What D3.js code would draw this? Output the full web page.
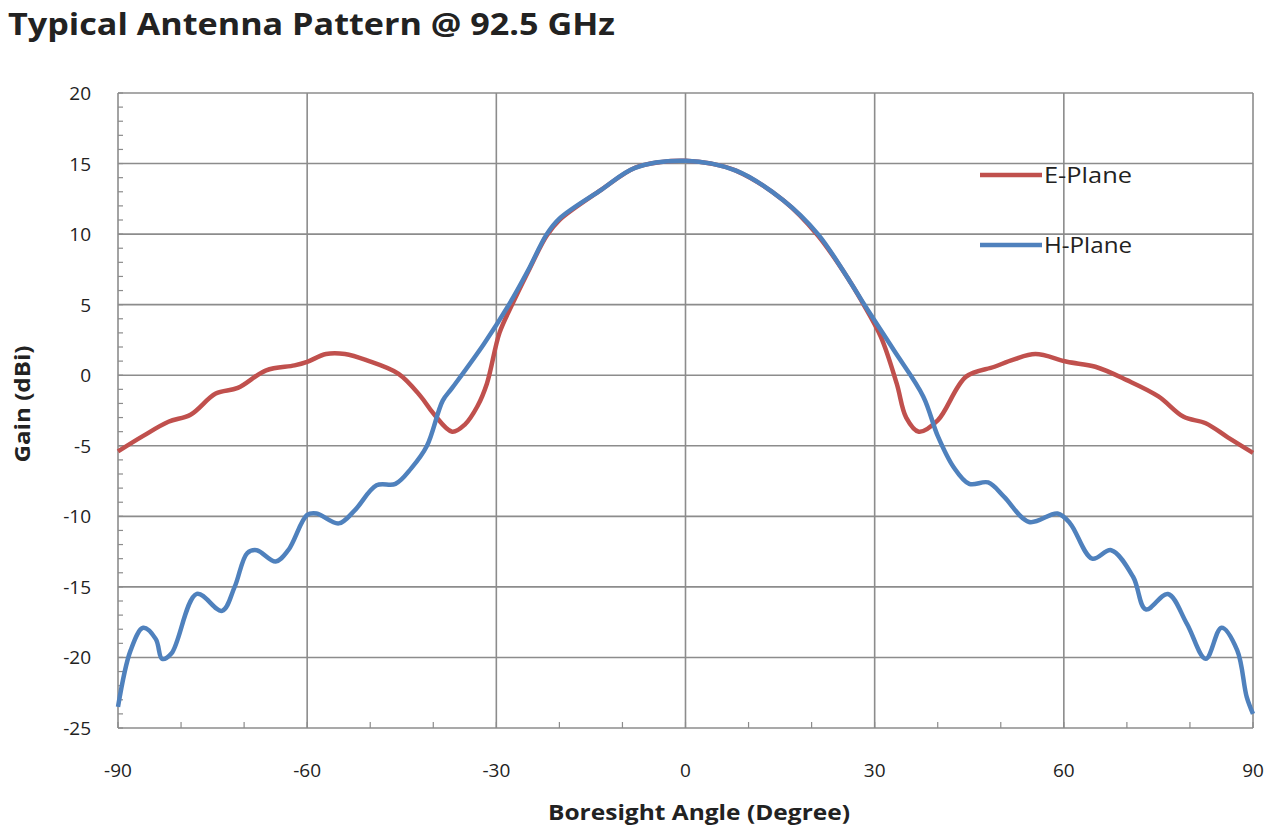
<!DOCTYPE html>
<meta charset="utf-8">
<head>
  <title>Typical Antenna Pattern</title>
</head>
<style>
  body { margin: 0; background: #fff; }
  text { font-family: "Open Sans", "Noto Sans", sans-serif; fill: #222; }
</style>
<body>
  <svg width="1280" height="838"></svg>

  <script src="https://cdnjs.cloudflare.com/ajax/libs/d3/7.8.5/d3.min.js"></script>
  <script>
  // angle (deg) and gain (dBi)
  var eAngle = [-90, -86, -82, -78.5, -74.5, -71, -66.5, -62, -60, -57, -54, -50.5, -45.5, -42, -40, -37, -35, -33, -31.5, -29.5, -27.5, -25, -22, -20, -13.5, -8, -4, 0, 4, 8, 15.5, 21, 26, 28, 31, 33.5, 35, 37, 40, 44.5, 49, 52, 55.5, 60.5, 65, 70, 75, 79, 82.5, 86, 90];
  var eGain  = [-5.4, -4.3, -3.3, -2.8, -1.3, -0.9, 0.35, 0.7, 0.95, 1.5, 1.5, 1.05, 0.1, -1.5, -2.7, -4.0, -3.5, -2.2, -0.6, 3.0, 5.0, 7.3, 9.9, 11.0, 13.1, 14.7, 15.1, 15.2, 15.0, 14.5, 12.4, 9.9, 6.7, 5.2, 2.7, -0.6, -3.0, -4.0, -3.2, -0.1, 0.6, 1.1, 1.5, 0.95, 0.6, -0.35, -1.5, -2.95, -3.4, -4.4, -5.5];

  var hAngle = [-90, -88, -86, -84, -83, -81.5, -77.5, -73.5, -71.5, -69.5, -68, -65, -63, -60, -58.5, -55, -52.5, -49, -46, -43.5, -41, -38.5, -37, -32, -28, -25, -22, -20, -13.5, -8, 0, 8, 15.5, 21, 26, 28.5, 33, 37.7, 40, 42.5, 45, 48, 50.5, 54.5, 59, 61, 64.5, 67.5, 71, 73, 76.5, 79.5, 82.5, 85, 87.5, 89, 90];
  var hGain  = [-23.5, -19.5, -17.9, -18.7, -20.1, -19.7, -15.5, -16.7, -15.0, -12.6, -12.4, -13.2, -12.4, -9.9, -9.8, -10.5, -9.6, -7.8, -7.7, -6.6, -5.0, -1.8, -0.9, 2.2, 5.0, 7.4, 10.0, 11.1, 13.1, 14.7, 15.2, 14.5, 12.4, 10.0, 6.7, 4.9, 1.8, -1.5, -4.3, -6.5, -7.7, -7.6, -8.6, -10.4, -9.8, -10.5, -13.0, -12.4, -14.3, -16.6, -15.5, -17.6, -20.1, -17.9, -19.5, -22.8, -24];

  var seriesNames = ['E-Plane', 'H-Plane'];
  var colors = ['#c0504d', '#4f81bd'];
  var xTicks = [-90, -60, -30, 0, 30, 60, 90];
  var yTicks = [-25, -20, -15, -10, -5, 0, 5, 10, 15, 20];

  var svg = d3.select('svg');
  var pLeft = 118, pRight = 1253, pTop = 93, pBottom = 728;

  var x = d3.scaleLinear().domain([-90, 90]).range([pLeft, pRight]);
  var y = d3.scaleLinear().domain([-25, 20]).range([pBottom, pTop]);

  svg.append('text')
    .attr('x', 8).attr('y', 35)
    .attr('textLength', 607).attr('lengthAdjust', 'spacingAndGlyphs')
    .style('font-size', '31px').style('font-weight', 'bold')
    .text('Typical Antenna Pattern @ 92.5 GHz');

  var g = svg.append('g');

  // grid
  g.selectAll('.hgrid').data(yTicks).enter().append('line')
    .attr('x1', pLeft).attr('x2', pRight)
    .attr('y1', function(d) { return y(d); })
    .attr('y2', function(d) { return y(d); })
    .style('stroke', '#8c8c8c').style('stroke-width', 1.6);
  g.selectAll('.vgrid').data(xTicks).enter().append('line')
    .attr('y1', pTop).attr('y2', pBottom)
    .attr('x1', function(d) { return x(d); })
    .attr('x2', function(d) { return x(d); })
    .style('stroke', '#8c8c8c').style('stroke-width', 1.6);

  // minor ticks
  g.selectAll('.ym').data(d3.range(-25, 21, 1)).enter().append('line')
    .attr('x1', pLeft).attr('x2', pLeft + 5)
    .attr('y1', function(d) { return y(d); })
    .attr('y2', function(d) { return y(d); })
    .style('stroke', '#8c8c8c').style('stroke-width', 1.2);
  g.selectAll('.xm').data(d3.range(-90, 91, 10)).enter().append('line')
    .attr('y1', pBottom).attr('y2', pBottom - 6)
    .attr('x1', function(d) { return x(d); })
    .attr('x2', function(d) { return x(d); })
    .style('stroke', '#8c8c8c').style('stroke-width', 1.2);

  // axis labels
  g.selectAll('.yl').data(yTicks).enter().append('text')
    .attr('x', 91).attr('y', function(d) { return y(d) + 7; })
    .attr('text-anchor', 'end')
    .style('font-size', '19px')
    .text(function(d) { return d; });
  g.selectAll('.xl').data(xTicks).enter().append('text')
    .attr('x', function(d) { return x(d); }).attr('y', 777)
    .attr('text-anchor', 'middle')
    .style('font-size', '19px')
    .text(function(d) { return d; });

  svg.append('text')
    .attr('x', 699).attr('y', 820)
    .attr('text-anchor', 'middle')
    .attr('textLength', 302).attr('lengthAdjust', 'spacingAndGlyphs')
    .style('font-size', '22px').style('font-weight', 'bold')
    .text('Boresight Angle (Degree)');
  svg.append('text')
    .attr('transform', 'translate(30,404) rotate(-90)')
    .attr('text-anchor', 'middle')
    .attr('textLength', 117).attr('lengthAdjust', 'spacingAndGlyphs')
    .style('font-size', '22px').style('font-weight', 'bold')
    .text('Gain (dBi)');

  // curves
  var series = [
    { name: seriesNames[0], pts: eAngle.map(function(a, i) { return [a, eGain[i]]; }) },
    { name: seriesNames[1], pts: hAngle.map(function(a, i) { return [a, hGain[i]]; }) }
  ];
  var line = d3.line()
    .x(function(d) { return x(d[0]); })
    .y(function(d) { return y(d[1]); })
    .curve(d3.curveCatmullRom.alpha(0.5));

  g.selectAll('.series').data(series).enter().append('path')
    .attr('d', function(d) { return line(d.pts); })
    .style('fill', 'none')
    .style('stroke', function(d, i) { return colors[i]; })
    .style('stroke-width', 4.5)
    .style('stroke-linejoin', 'round');

  // legend
  var leg = svg.selectAll('.leg').data(seriesNames).enter().append('g')
    .attr('transform', function(d, i) { return 'translate(980,' + (175 + i * 70) + ')'; });
  leg.append('line')
    .attr('x1', 0).attr('x2', 62)
    .style('stroke', function(d, i) { return colors[i]; })
    .style('stroke-width', 4.5);
  leg.append('text')
    .attr('x', 64).attr('y', 8)
    .attr('textLength', 88).attr('lengthAdjust', 'spacingAndGlyphs')
    .style('font-size', '21px')
    .text(function(d) { return d; });
  </script>
</body>
</html>
